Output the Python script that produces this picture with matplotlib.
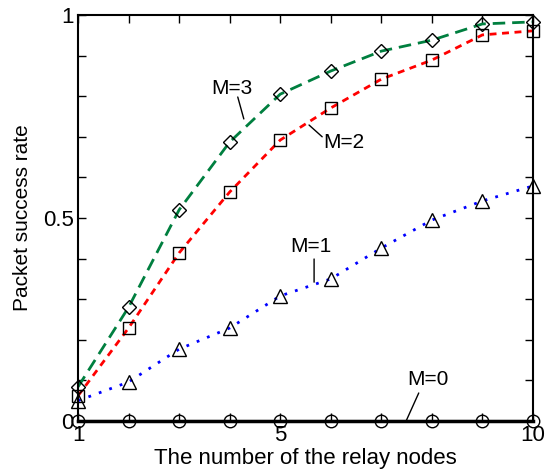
import numpy as np
import matplotlib.pyplot as plt

plt.rcParams['font.family'] = ['Liberation Sans', 'DejaVu Sans']

# data
nodes = np.arange(1, 11)
m3 = [0.084, 0.28, 0.52, 0.687, 0.805, 0.862, 0.911, 0.938, 0.978, 0.983]
m2 = [0.062, 0.229, 0.414, 0.564, 0.692, 0.771, 0.842, 0.889, 0.951, 0.961]
m1 = [0.05, 0.096, 0.177, 0.229, 0.308, 0.35, 0.426, 0.495, 0.542, 0.579]
m0 = [0.0] * 10

fig = plt.figure(figsize=(5.45, 4.75), dpi=100)
ax = fig.add_axes([78/545, 54/475, 455/545, 406/475])

ms = 9
ax.plot(nodes, m0, color='black', lw=2.5, zorder=2, clip_on=False)
ax.plot(nodes, m0, 'o', mfc='none', mec='black', ms=ms, mew=1, zorder=3, clip_on=False)

ax.plot(nodes, m1, color='#0000ff', lw=2, ls=(0, (1, 3)), zorder=2)
ax.plot(nodes, m1, '^', mfc='none', mec='black', ms=ms+1, mew=1, zorder=3, clip_on=False)

ax.plot(nodes, m2, color='#ff0000', lw=2, ls=(0, (2.5, 2)), zorder=2)
ax.plot(nodes, m2, 's', mfc='none', mec='black', ms=ms, mew=1, zorder=3, clip_on=False)

ax.plot(nodes, m3, color='#007f3f', lw=2, ls=(0, (4.5, 2.5)), zorder=2)
ax.plot(nodes, m3, 'D', mfc='none', mec='black', ms=ms-2, mew=1, zorder=3, clip_on=False)

# labels on curves with leader lines
fs = 15
labels = ['M=3', 'M=2', 'M=1', 'M=0']
text_pos = [(4.05, 0.82), (6.26, 0.685), (5.61, 0.429), (7.92, 0.101)]
leaders = [((4.16, 0.798), (4.28, 0.744)),
           ((5.57, 0.729), (5.83, 0.700)),
           ((5.67, 0.399), (5.67, 0.342)),
           ((7.74, 0.069), (7.49, 0.0))]
for lab, (tx, ty), (p0, p1) in zip(labels, text_pos, leaders):
    ax.text(tx, ty, lab, fontsize=fs, ha='center', va='center')
    ax.annotate('', xy=p1, xytext=p0,
                arrowprops=dict(arrowstyle='-', lw=1, color='black', shrinkA=0, shrinkB=0))

ax.set_xlim(1, 10)
ax.set_ylim(0, 1)
ax.set_xticks([1, 5, 10])
ax.set_xticks(nodes, minor=True)
ax.set_yticks([0, 0.5, 1])
ax.set_yticklabels(['0', '0.5', '1'])
ax.set_yticks(np.arange(0, 1.01, 0.1), minor=True)
ax.tick_params(which='both', direction='in', top=True, right=True, labelsize=16, width=1)
ax.tick_params(which='major', length=6, pad=3)
ax.tick_params(which='minor', length=6)
for sp in ax.spines.values():
    sp.set_linewidth(1.5)

ax.set_xlabel('The number of the relay nodes', fontsize=16, labelpad=1)
ax.set_ylabel('Packet success rate', fontsize=15, labelpad=8)

fig.savefig('out.png', dpi=100)
